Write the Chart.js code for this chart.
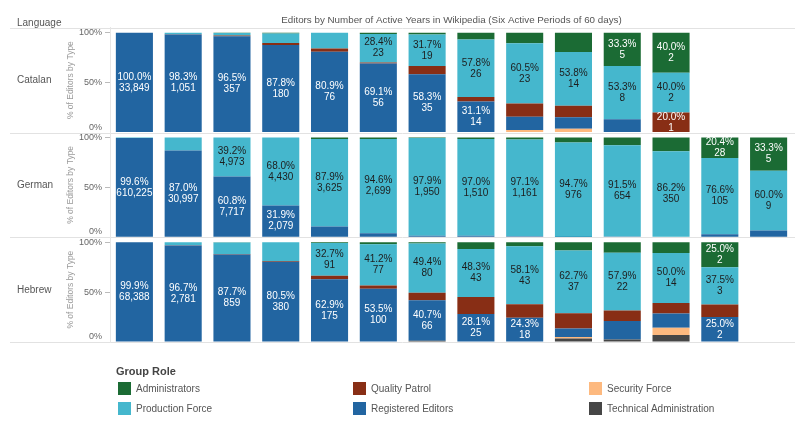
<!DOCTYPE html>
<html lang="en">
<head>
<meta charset="UTF-8">
<title>Editors by Number of Active Years in Wikipedia</title>
<script src="https://cdn.jsdelivr.net/npm/chart.js@4.4.0/dist/chart.umd.min.js"></script>
<style>
  body { margin: 0; background: #fff; font-family: "Liberation Sans", Arial, sans-serif; }
  .wrap { position: relative; width: 800px; height: 427px; }
  .legend-title { position: absolute; left: 116px; top: 365px; font-size: 11px; font-weight: bold; color: #444; }
  .key { position: absolute; display: flex; align-items: center; height: 13px; font-size: 10px; color: #555; }
  .key .sw { width: 13px; height: 13px; margin-right: 5px; }
</style>
</head>
<body>
<div class="wrap">
  <canvas id="editors" width="800" height="427"></canvas>
  <div class="legend-title">Group Role</div>
  <div class="key" style="left:118px; top:382px"><span class="sw" style="background:#1b6b34"></span>Administrators</div>
  <div class="key" style="left:353px; top:382px"><span class="sw" style="background:#882e15"></span>Quality Patrol</div>
  <div class="key" style="left:589px; top:382px"><span class="sw" style="background:#fdb97f"></span>Security Force</div>
  <div class="key" style="left:118px; top:402px"><span class="sw" style="background:#45b7cd"></span>Production Force</div>
  <div class="key" style="left:353px; top:402px"><span class="sw" style="background:#2265a1"></span>Registered Editors</div>
  <div class="key" style="left:589px; top:402px"><span class="sw" style="background:#464646"></span>Technical Administration</div>
</div>

<script>
// number of active years (x categories, not labelled in the picture)
const years = ['1','2','3','4','5','6','7','8','9','10','11','12','13','14'];
const languages = ['Catalan', 'German', 'Hebrew'];
const tickValues = [0, 50, 100];

// % of editors by type, stacked bottom to top:
// technical admin, security force, registered editors, quality patrol, production force, administrators
const catalanTech  = [0, 0, 0, 0, 0, 0, 0, 0, 0, 0, 0, 0, null, null];
const catalanSec   = [0, 0, 0, 0, 0, 0, 0, 0, 2.6, 3.8, 0, 0, null, null];
const catalanReg   = [100.0, 98.3, 96.5, 87.8, 80.9, 69.1, 58.3, 31.1, 13.2, 11.5, 13.3, 0, null, null];
const catalanQP    = [0, 0.2, 0.8, 2.0, 3.2, 1.2, 8.3, 4.4, 13.2, 11.5, 0, 20.0, null, null];
const catalanProd  = [0, 1.5, 2.5, 9.5, 15.9, 28.4, 31.7, 57.8, 60.5, 53.8, 53.3, 40.0, null, null];
const catalanAdmin = [0, 0, 0.2, 0.7, 0, 1.3, 1.7, 6.7, 10.5, 19.4, 33.3, 40.0, null, null];

const germanTech  = [0, 0, 0, 0, 0, 0, 0, 0, 0, 0, 0, 0, 0, 0];
const germanSec   = [0, 0, 0, 0, 0, 0, 0, 0, 0, 0, 0.4, 0, 0, 0];
const germanReg   = [99.6, 87.0, 60.8, 31.9, 10.7, 4.0, 1.5, 1.5, 0.9, 0.3, 0.4, 0, 2.9, 6.7];
const germanQP    = [0, 0, 0, 0, 0, 0, 0, 0, 0, 0, 0, 0, 0, 0];
const germanProd  = [0.4, 13.0, 39.2, 68.0, 87.9, 94.6, 97.9, 97.0, 97.1, 94.7, 91.5, 86.2, 76.6, 60.0];
const germanAdmin = [0, 0, 0, 0.1, 1.4, 1.4, 0.6, 1.5, 2.0, 5.0, 7.7, 13.8, 20.4, 33.3];

const hebrewTech  = [0, 0, 0, 0, 0, 0, 1.2, 0, 0, 3.4, 2.6, 7.1, 0, null];
const hebrewSec   = [0, 0, 0, 0, 0, 0, 0, 0, 0, 1.7, 0, 7.1, 0, null];
const hebrewReg   = [99.9, 96.7, 87.7, 80.5, 62.9, 53.5, 40.7, 28.1, 24.3, 8.5, 18.4, 14.3, 25.0, null];
const hebrewQP    = [0, 0.3, 0.5, 0.6, 3.6, 3.2, 7.4, 16.9, 13.5, 15.3, 10.5, 10.7, 12.5, null];
const hebrewProd  = [0.1, 3.0, 11.5, 18.9, 32.7, 41.2, 49.4, 48.3, 58.1, 62.7, 57.9, 50.0, 37.5, null];
const hebrewAdmin = [0, 0, 0.3, 0, 0.8, 2.1, 1.2, 6.7, 4.1, 8.5, 10.5, 10.7, 25.0, null];

// editor counts printed on the bars (null = no label)
const catalanRegCount   = [33849, 1051, 357, 180, 76, 56, 35, 14, null, null, null, null, null, null];
const catalanQPCount    = [null, null, null, null, null, null, null, null, null, null, null, 1, null, null];
const catalanProdCount  = [null, null, null, null, null, 23, 19, 26, 23, 14, 8, 2, null, null];
const catalanAdminCount = [null, null, null, null, null, null, null, null, null, null, 5, 2, null, null];
const germanRegCount    = [610225, 30997, 7717, 2079, null, null, null, null, null, null, null, null, null, null];
const germanProdCount   = [null, null, 4973, 4430, 3625, 2699, 1950, 1510, 1161, 976, 654, 350, 105, 9];
const germanAdminCount  = [null, null, null, null, null, null, null, null, null, null, null, null, 28, 5];
const hebrewRegCount    = [68388, 2781, 859, 380, 175, 100, 66, 25, 18, null, null, null, 2, null];
const hebrewProdCount   = [null, null, null, null, 91, 77, 80, 43, 43, 37, 22, 14, 3, null];
const hebrewAdminCount  = [null, null, null, null, null, null, null, null, null, null, null, null, 2, null];

const roleColors = {
  tech: '#464646', sec: '#fdb97f', reg: '#2265a1', qp: '#882e15', prod: '#45b7cd', admin: '#1b6b34'
};
const labelColors = { reg: '#ffffff', qp: '#ffffff', prod: '#1d1d1d', admin: '#ffffff' };

const axisIds = ['yCatalan', 'yGerman', 'yHebrew'];
const series = [
  { tech: catalanTech, sec: catalanSec, reg: catalanReg, qp: catalanQP, prod: catalanProd, admin: catalanAdmin,
    counts: { reg: catalanRegCount, qp: catalanQPCount, prod: catalanProdCount, admin: catalanAdminCount } },
  { tech: germanTech, sec: germanSec, reg: germanReg, qp: germanQP, prod: germanProd, admin: germanAdmin,
    counts: { reg: germanRegCount, prod: germanProdCount, admin: germanAdminCount } },
  { tech: hebrewTech, sec: hebrewSec, reg: hebrewReg, qp: hebrewQP, prod: hebrewProd, admin: hebrewAdmin,
    counts: { reg: hebrewRegCount, prod: hebrewProdCount, admin: hebrewAdminCount } }
];

const datasets = [];
series.forEach((s, li) => {
  ['tech', 'sec', 'reg', 'qp', 'prod', 'admin'].forEach(role => {
    datasets.push({
      label: languages[li] + ' ' + role,
      data: s[role],
      yAxisID: axisIds[li],
      stack: 'all',
      backgroundColor: roleColors[role],
      borderWidth: 0,
      barPercentage: 0.76,
      categoryPercentage: 1.0,
      counts: s.counts[role] || null,
      labelColor: labelColors[role]
    });
  });
});

function yAxis(weight) {
  return {
    type: 'linear',
    position: 'left',
    stack: 'panels',
    stackWeight: 1,
    weight: weight,
    stacked: true,
    min: 0,
    max: 105,
    afterBuildTicks: s => { s.ticks = tickValues.map(v => ({ value: v })); },
    afterFit: s => { s.width = 50; },
    ticks: {
      font: { size: 9 },
      color: '#666',
      padding: 3,
      callback: v => v === 0 ? ['0%', ''] : v + '%'
    },
    grid: {
      drawOnChartArea: false,
      tickLength: 5,
      color: c => (c.tick && c.tick.value === 0) ? 'rgba(0,0,0,0)' : '#bbb'
    },
    border: { display: true, color: '#e6e6e6' },
    title: {
      display: true,
      text: '% of Editors by Type',
      color: '#9a9a9a',
      font: { size: 8.5 },
      padding: { top: 6, bottom: 0 }
    }
  };
}

// panel separators, language names
const panelDecor = {
  id: 'panelDecor',
  beforeDraw(chart) {
    const { ctx, chartArea } = chart;
    ctx.save();
    ctx.strokeStyle = '#e2e2e2';
    ctx.lineWidth = 1;
    const ys = [chartArea.top].concat(axisIds.map(id => chart.scales[id].bottom));
    ys.forEach(y => {
      ctx.beginPath();
      ctx.moveTo(10, Math.round(y) + 0.5);
      ctx.lineTo(795, Math.round(y) + 0.5);
      ctx.stroke();
    });
    ctx.restore();
  },
  afterDraw(chart) {
    const { ctx, chartArea } = chart;
    ctx.save();
    ctx.font = '10px "Liberation Sans", Arial, sans-serif';
    ctx.fillStyle = '#555';
    ctx.textAlign = 'left';
    ctx.textBaseline = 'middle';
    ctx.fillText('Language', 17, chartArea.top - 5);
    languages.forEach((lang, i) => {
      ctx.fillText(lang, 17, chart.scales[axisIds[i]].getPixelForValue(50) - 2);
    });
    ctx.restore();
  }
};

// percentage + count written in the middle of a segment
const barLabels = {
  id: 'barLabels',
  afterDatasetsDraw(chart) {
    const ctx = chart.ctx;
    ctx.save();
    ctx.font = '10px "Liberation Sans", Arial, sans-serif';
    ctx.textAlign = 'center';
    ctx.textBaseline = 'middle';
    chart.data.datasets.forEach((ds, di) => {
      if (!ds.counts) return;
      const meta = chart.getDatasetMeta(di);
      meta.data.forEach((bar, i) => {
        const n = ds.counts[i];
        if (n == null) return;
        const y = (bar.y + bar.base) / 2;
        ctx.fillStyle = ds.labelColor;
        ctx.fillText(ds.data[i].toFixed(1) + '%', bar.x, y - 5.5);
        ctx.fillText(n.toLocaleString('en-US'), bar.x, y + 5.5);
      });
    });
    ctx.restore();
  }
};

Chart.defaults.font.family = '"Liberation Sans", Arial, sans-serif';

new Chart(document.getElementById('editors'), {
  type: 'bar',
  data: { labels: years, datasets: datasets },
  options: {
    responsive: false,
    animation: false,
    devicePixelRatio: 1,
    layout: { padding: { left: 60, right: 7, top: 0, bottom: 85 } },
    plugins: {
      legend: { display: false },
      tooltip: { enabled: false },
      title: {
        display: true,
        fullSize: false,
        text: 'Editors by Number of Active Years in Wikipedia (Six Active Periods of 60 days)',
        color: '#555',
        font: { size: 9.8, weight: 'normal' },
        padding: { top: 14, bottom: 2 }
      }
    },
    scales: {
      x: { type: 'category', display: false, stacked: true },
      yCatalan: yAxis(3),
      yGerman: yAxis(2),
      yHebrew: yAxis(1)
    }
  },
  plugins: [panelDecor, barLabels]
});
</script>
</body>
</html>
